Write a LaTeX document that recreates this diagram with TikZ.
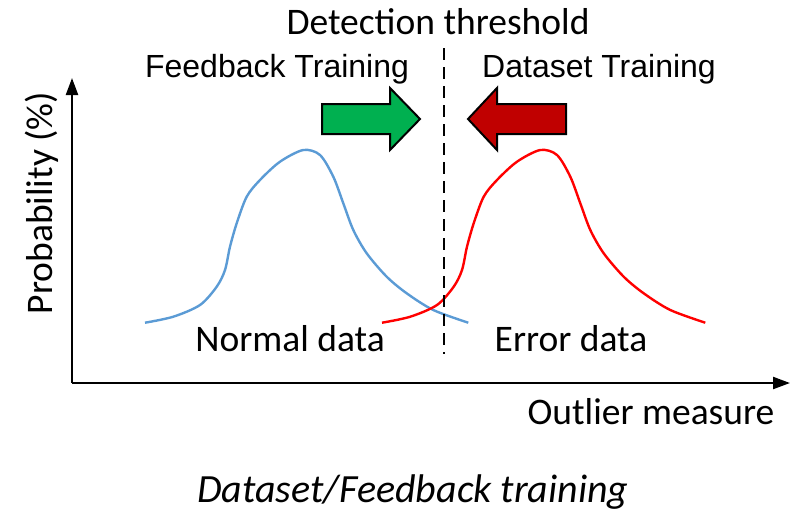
\documentclass[tikz,border=0pt]{standalone}
\usepackage{fontspec}
\setmainfont{Carlito}
\newfontfamily\arialfont{Liberation Sans}
\usetikzlibrary{arrows.meta}
\definecolor{normalblue}{HTML}{5B9BD5}
\definecolor{errorred}{HTML}{FF0000}
\definecolor{fbgreen}{HTML}{00B050}
\definecolor{dsred}{HTML}{C00000}
\tikzset{
  axis/.style={line width=2.2pt, -{Triangle[length=17pt,width=12pt]}},
  lbl/.style={font=\fontsize{37.5}{44}\selectfont, inner sep=0pt},
  toplbl/.style={font=\arialfont\fontsize{32}{38}\selectfont, inner sep=0pt},
  bell/.style={line width=2.4pt},
  blockarrow/.style={draw=black, line width=2pt, line join=miter},
  thresh/.style={line width=2.4pt, dash pattern=on 12pt off 7pt},
}
% one bell-shaped density curve, reused for both classes
\newcommand\bellcurve{plot[smooth, tension=0.5] coordinates {
  (145,322.7) (173.3,316.7) (200,305) (216.7,286.7) (225,270) (230,246.7)
  (236.7,223.3) (246.7,196.7) (260,180) (280,161.7) (303.3,150) (320,155)
  (333.3,176.7) (343.3,203.3) (353.3,230) (366.7,253.3) (386.7,276.7)
  (406.7,293.3) (433.3,310) (468.3,322.7)}}
\begin{document}
\begin{tikzpicture}[x=1pt, y=-1pt]
\useasboundingbox (0,0) rectangle (795,512);

% axes
\coordinate (origin) at (72,383);
\coordinate (ytop) at (72,78);
\coordinate (xend) at (790,383);
\draw[axis] (origin) -- (ytop);
\draw[axis] (origin) -- (xend);

% distributions
\draw[bell, normalblue] \bellcurve;
\begin{scope}[xshift=237pt]
\draw[bell, errorred] \bellcurve;
\end{scope}

% detection threshold
\coordinate (thtop) at (444,48);
\coordinate (thbot) at (444,354);
\draw[thresh] (thtop) -- (thbot);

% block arrows
\draw[blockarrow, fill=fbgreen] (322,104) -- (390,104) -- (390,88) -- (420,119)
  -- (390,150) -- (390,134) -- (322,134) -- cycle;
\draw[blockarrow, fill=dsred] (566,104) -- (497,104) -- (497,88) -- (468,119)
  -- (497,150) -- (497,134) -- (566,134) -- cycle;

% labels
\node[lbl] (det) at (438,22) {Detection threshold};
\node[toplbl] (fb) at (277,69) {Feedback Training};
\node[toplbl] (ds) at (599,69) {Dataset Training};
\node[lbl] (normal) at (290,339) {Normal data};
\node[lbl] (error) at (571,339) {Error data};
\node[lbl] (xlab) at (651,412) {Outlier measure};
\node[lbl, rotate=90] (ylab) at (42,203) {Probability (\%)};
\node[lbl, font=\itshape\fontsize{40}{47}\selectfont] (caption) at (413,492) {Dataset/Feedback training};
\end{tikzpicture}
\end{document}
